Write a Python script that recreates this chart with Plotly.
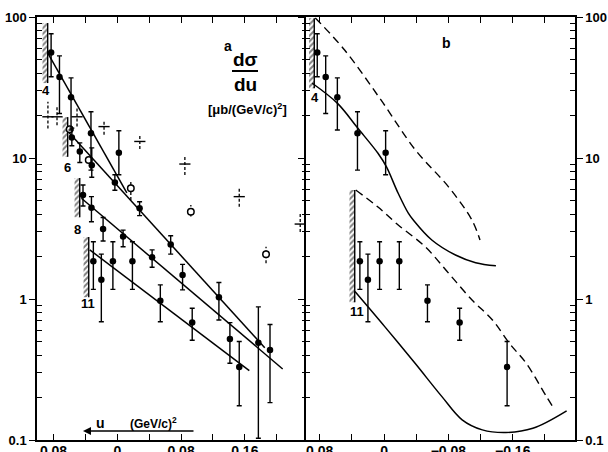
import plotly.graph_objects as go

# ---------------- data (u in (GeV/c)^2, dsigma/du in microbarn/(GeV/c)^2) ----------------
# measured points, p = 4 GeV/c
u4 = [0.083, 0.0725, 0.058, 0.033, -0.002]
v4 = [56.0, 37.5, 27.0, 15.0, 10.9]
hi4 = [76.0, 53.0, 37.0, 21.3, 15.6]
lo4 = [37.7, 20.7, 15.8, 8.2, 7.6]

# p = 6 GeV/c
u6 = [0.057, 0.047, 0.032, 0.003, -0.028, -0.067, -0.1275, -0.177]
v6 = [14.0, 11.1, 8.9, 6.7, 4.4, 2.44, 1.03, 0.49]
hi6 = [16.3, 12.8, 11.8, 7.6, 4.9, 2.81, 1.31, 0.88]
lo6 = [12.2, 9.3, 7.3, 5.9, 3.9, 2.08, 0.71, 0.103]

# p = 8 GeV/c
u8 = [0.043, 0.0324, 0.0178, -0.0073, -0.0437, -0.0819, -0.1413, -0.1916]
v8 = [5.47, 4.44, 3.14, 2.77, 1.98, 1.48, 0.52, 0.435]
hi8 = [6.44, 5.32, 3.78, 3.08, 2.23, 1.76, 0.68, 0.66]
lo8 = [4.57, 3.53, 2.58, 2.35, 1.68, 1.16, 0.35, 0.184]

# p = 11 GeV/c
u11 = [0.030, 0.020, 0.0055, -0.019, -0.054, -0.094, -0.153]
v11 = [1.85, 1.37, 1.85, 1.85, 0.97, 0.68, 0.33]
hi11 = [2.55, 2.08, 2.55, 2.55, 1.26, 0.86, 0.50]
lo11 = [1.17, 0.69, 1.17, 1.17, 0.69, 0.51, 0.175]

# open circles (other experiment)
u_open = [0.0597, 0.0358, -0.017, -0.0923, -0.1866]
v_open = [16.0, 9.68, 6.1, 4.16, 2.08]
hi_open = [16.0, 9.68, 6.79, 4.65, 2.35]
lo_open = [16.0, 9.68, 5.03, 3.84, 1.79]

# crosses with dashed errors (other experiment)
u_cross = [0.087, 0.0756, 0.0505, 0.0166, -0.0283, -0.0848, -0.153, -0.2295]
v_cross = [19.6, 19.6, 19.6, 16.7, 13.1, 9.06, 5.32, 3.4]
hi_cross = [25.1, 23.1, 22.5, 18.6, 14.6, 10.5, 6.25, 4.07]
lo_cross = [16.2, 17.1, 16.7, 14.6, 11.6, 7.57, 4.52, 2.99]

# exponential fits (panel a): start / end
fit_labels = ["4", "6", "8", "11"]
fit_u0 = [0.0873, 0.0618, 0.045, 0.0345]
fit_v0 = [55.6, 15.4, 5.18, 2.23]
fit_u1 = [-0.012, -0.185, -0.2075, -0.1656]
fit_v1 = [5.65, 0.452, 0.319, 0.31]

# kinematic limits (hatched bars)
hatch_u_a = [0.0873, 0.0622, 0.0471, 0.0358]
hatch_lo_a = [34.0, 10.2, 3.8, 1.03]
hatch_hi_a = [90.6, 19.5, 7.2, 2.75]
hatch_u_b = [0.0867, 0.0364]
hatch_lo_b = [31.3, 0.95]
hatch_hi_b = [98.0, 5.93]

# model curves (panel b)
th4_solid_u = [0.0892, 0.0578, 0.0327, 0.0075, -0.0029, -0.0176, -0.0302, -0.0364, -0.0594, -0.0888, -0.1139, -0.1391]
th4_solid_v = [33.9, 24.4, 16.3, 10.8, 8.68, 5.62, 4.06, 3.63, 2.62, 2.05, 1.81, 1.72]
th4_dash_u = [0.0854, 0.049, 0.0038, -0.039, -0.0804, -0.1093, -0.1193]
th4_dash_v = [98.4, 58.3, 25.8, 11.4, 6.22, 3.63, 2.62]
th11_solid_u = [0.0361, -0.0009, -0.0386, -0.072, -0.0971, -0.1222, -0.1516, -0.185, -0.227]
th11_solid_v = [1.13, 0.637, 0.35, 0.203, 0.139, 0.118, 0.113, 0.121, 0.161]
th11_dash_u = [0.0352, 0.0075, -0.0176, -0.0511, -0.0804, -0.1097, -0.1348, -0.1558, -0.1768, -0.2019, -0.2098]
th11_dash_v = [5.93, 4.49, 3.35, 2.35, 1.52, 0.98, 0.71, 0.485, 0.35, 0.203, 0.172]

# axis ticks
y_major = [0.1, 1, 10, 100]
y_major_text = ["0.1", "1", "10", "100"]
y_minor = [m * d for d in (0.1, 1, 10) for m in range(2, 10)]
xa_major = [0.08, 0.0, -0.08, -0.16]
xa_text = ["0.08", "0", "0.08", "0.16"]
xb_major = [0.08, 0.0, -0.08, -0.16]
xb_text = ["0.08", "0", "\u22120.08", "\u22120.16"]
x_minor = [0.04, -0.04, -0.12, -0.20]

# ---------------- figure ----------------
K = "black"
fig = go.Figure()


def segs(us, los, his):
    xs, ys = [], []
    for u, lo, hi in zip(us, los, his):
        xs += [u, u, None]
        ys += [lo, hi, None]
    return xs, ys


def add_points(u, v, lo, hi, xa, ya):
    fig.add_trace(go.Scatter(
        x=u, y=v, mode="markers", xaxis=xa, yaxis=ya,
        marker=dict(symbol="circle", size=6.5, color=K),
        error_y=dict(type="data", symmetric=False,
                     array=[h - c for h, c in zip(hi, v)],
                     arrayminus=[c - l for c, l in zip(v, lo)],
                     color=K, thickness=1.4, width=2.5)))


def add_hatch(us, los, his, xa, ya, w=0.0065):
    for u, lo, hi in zip(us, los, his):
        fig.add_trace(go.Scatter(
            x=[u, u + w, u + w, u, u], y=[lo, lo, hi, hi, lo],
            mode="lines", fill="toself", xaxis=xa, yaxis=ya,
            line=dict(width=0, color=K), fillcolor="white",
            fillpattern=dict(shape="/", size=4, solidity=0.5, fgcolor=K, bgcolor="white")))
        fig.add_trace(go.Scatter(x=[u, u], y=[lo, hi], mode="lines", xaxis=xa, yaxis=ya,
                                 line=dict(color=K, width=1.4)))


# panel a
add_hatch(hatch_u_a, hatch_lo_a, hatch_hi_a, "x", "y")
for i in range(len(fit_labels)):
    fig.add_trace(go.Scatter(x=[fit_u0[i], fit_u1[i]], y=[fit_v0[i], fit_v1[i]], mode="lines",
                             xaxis="x", yaxis="y", line=dict(color=K, width=1.5)))
xs, ys = segs(u_cross, lo_cross, hi_cross)
fig.add_trace(go.Scatter(x=xs, y=ys, mode="lines", xaxis="x", yaxis="y",
                         line=dict(color=K, width=1.3, dash="3px,2px")))
fig.add_trace(go.Scatter(x=u_cross, y=v_cross, mode="markers", xaxis="x", yaxis="y",
                         marker=dict(symbol="line-ew", size=8, line=dict(color=K, width=1.4))))
xs, ys = segs(u_open, lo_open, hi_open)
fig.add_trace(go.Scatter(x=xs, y=ys, mode="lines", xaxis="x", yaxis="y",
                         line=dict(color=K, width=1.3, dash="3px,2px")))
fig.add_trace(go.Scatter(x=u_open, y=v_open, mode="markers", xaxis="x", yaxis="y",
                         marker=dict(symbol="circle", size=6.5, color="white",
                                     line=dict(color=K, width=1.5))))
for u, v, lo, hi in [(u4, v4, lo4, hi4), (u6, v6, lo6, hi6), (u8, v8, lo8, hi8), (u11, v11, lo11, hi11)]:
    add_points(u, v, lo, hi, "x", "y")

# panel b
add_hatch(hatch_u_b, hatch_lo_b, hatch_hi_b, "x2", "y2")
fig.add_trace(go.Scatter(x=th4_dash_u, y=th4_dash_v, mode="lines", line_shape="spline",
                         xaxis="x2", yaxis="y2", line=dict(color=K, width=1.4, dash="8px,5px")))
fig.add_trace(go.Scatter(x=th4_solid_u, y=th4_solid_v, mode="lines", line_shape="spline",
                         xaxis="x2", yaxis="y2", line=dict(color=K, width=1.5)))
fig.add_trace(go.Scatter(x=th11_dash_u, y=th11_dash_v, mode="lines", line_shape="spline",
                         xaxis="x2", yaxis="y2", line=dict(color=K, width=1.4, dash="8px,5px")))
fig.add_trace(go.Scatter(x=th11_solid_u, y=th11_solid_v, mode="lines", line_shape="spline",
                         xaxis="x2", yaxis="y2", line=dict(color=K, width=1.5)))
add_points(u4, v4, lo4, hi4, "x2", "y2")
add_points(u11, v11, lo11, hi11, "x2", "y2")

tickfont_y = dict(family="Liberation Sans, Arial, sans-serif", size=13, color=K, weight="bold")
tickfont_x = dict(family="Liberation Sans, Arial, sans-serif", size=14, color=K, weight="bold")

xcommon = dict(showgrid=False, zeroline=False, showline=True, linecolor=K, linewidth=1.5,
               mirror="ticks", ticks="inside", ticklen=6, tickwidth=1.3, tickcolor=K,
               tickmode="array", tickfont=tickfont_x, automargin=False, ticklabelstandoff=-3,
               minor=dict(tickmode="array", tickvals=x_minor, ticks="inside", ticklen=6,
                          tickwidth=1.3, tickcolor=K, showgrid=False))
ycommon = dict(type="log", range=[-1, 2], showgrid=False, zeroline=False, showline=True,
               linecolor=K, linewidth=1.5, mirror="ticks", ticks="outside", ticklen=6,
               tickwidth=1.3, tickcolor=K, tickmode="array", tickvals=y_major,
               ticktext=y_major_text, tickfont=tickfont_y, automargin=False,
               minor=dict(tickmode="array", tickvals=y_minor, ticks="inside", ticklen=5,
                          tickwidth=1.2, tickcolor=K, showgrid=False))

split = 270 / 538
fig.update_layout(
    width=608, height=452, margin=dict(l=37, r=33, t=17, b=12, autoexpand=False),
    paper_bgcolor="white", plot_bgcolor="white", showlegend=False,
    xaxis=dict(domain=[0, split], range=[0.1007, -0.238], anchor="y",
               tickvals=xa_major, ticktext=xa_text, **xcommon),
    yaxis=dict(domain=[0, 1], anchor="x", side="left", **ycommon),
    xaxis2=dict(domain=[split - 1.5 / 538, 1], range=[0.0976, -0.2374], anchor="y2",
                tickvals=xb_major, ticktext=xb_text, **xcommon),
    yaxis2=dict(domain=[0, 1], anchor="x2", side="right", **ycommon),
)

F = "Liberation Sans, Arial, sans-serif"


def px(xp, yp):
    return (xp - 37) / 538, (440 - yp) / 423


def label(text, xp, yp, size=13):
    x, y = px(xp, yp)
    fig.add_annotation(text=text, x=x, y=y, xref="paper", yref="paper", showarrow=False,
                       xanchor="center", yanchor="middle",
                       font=dict(family=F, size=size, color=K, weight="bold"))


label("a", 228, 46, 14)
label("b", 446, 43, 14)
label("d\u03c3", 245, 59, 19)
label("du", 245, 84, 19)
label("[\u03bcb/(GeV/c)<sup>2</sup>]", 247, 109, 13)
label("4", 46, 90)
label("6", 67, 168)
label("8", 77, 230)
label("11", 88, 303)
label("4", 315, 97)
label("11", 357, 311)
label("u", 100, 423, 14)
label("(GeV/c)<sup>2</sup>", 153, 423, 12)

x0, y0 = px(232, 71)
x1, _ = px(258, 71)
fig.add_shape(type="line", xref="paper", yref="paper", x0=x0, x1=x1, y0=y0, y1=y0,
              line=dict(color=K, width=2))
ax_, ay_ = px(83, 431)
fig.add_annotation(text="", x=ax_, y=ay_, xref="paper", yref="paper", showarrow=True,
                   ax=112, ay=0, arrowhead=2, arrowsize=1, arrowwidth=1.6, arrowcolor=K)

fig.write_html("out.html", config={"displayModeBar": False},
               post_script="document.body.style.margin='0px';document.body.style.overflow='hidden';")
